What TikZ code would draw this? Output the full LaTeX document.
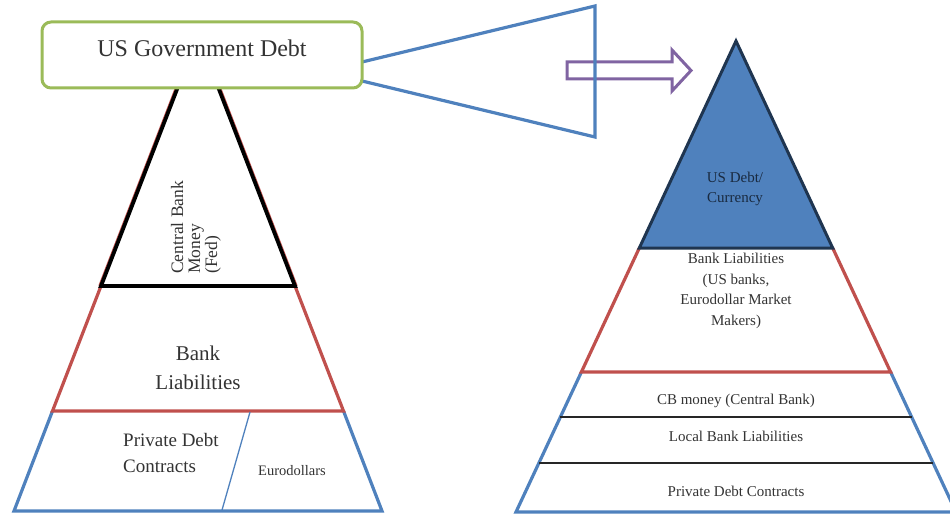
\documentclass[tikz,border=0pt]{standalone}
\usepackage{fontspec}
\setmainfont{Liberation Serif}
\definecolor{gGreen}{HTML}{9BBB59}
\definecolor{gRed}{HTML}{C0504D}
\definecolor{gBlue}{HTML}{4F81BD}
\definecolor{gPurple}{HTML}{8064A2}
\definecolor{gNavy}{HTML}{1F3550}
\definecolor{gText}{HTML}{333333}
\tikzset{
  blueline/.style={draw=gBlue, line width=3.2pt, line join=miter},
  redline/.style={draw=gRed, line width=3.2pt, line join=miter},
  blackline/.style={draw=black, line width=3.8pt, line join=miter},
  divline/.style={draw=black!85, line width=1.8pt},
  lbl/.style={text=gText, inner sep=0pt, align=center},
}
\begin{document}
\begin{tikzpicture}[x=1pt,y=-1pt]
\useasboundingbox (0,0) rectangle (950,516);
\clip (0,0) rectangle (950,516);
% ---------- left pyramid ----------
\coordinate (la) at (198,35);
\coordinate (lbL) at (101,286);
\coordinate (lbR) at (295,286);
\coordinate (lrL) at (52.5,411);
\coordinate (lrR) at (343.5,411);
\coordinate (lpL) at (14,511);
\coordinate (lpR) at (382,511);
\draw[blueline] (lrL) -- (lpL) -- (lpR) -- (lrR);
\draw[redline] (lbL) -- (lrL) -- (lrR) -- (lbR);
\draw[redline, line width=3pt] ([xshift=-1.2pt]la) -- ([xshift=-1.2pt]lbL);
\draw[redline, line width=3pt] ([xshift=1.2pt]la) -- ([xshift=1.2pt]lbR);
\draw[blackline] (la) -- (lbL) -- (lbR) -- cycle;
\coordinate (dvT) at (250,412);
\coordinate (dvB) at (222,510);
\draw[draw=gBlue, line width=1.3pt] (dvT) -- (dvB);
% ---------- megaphone + arrow ----------
\coordinate (m1) at (362,62);
\coordinate (m2) at (595,6);
\coordinate (m3) at (595,137);
\coordinate (m4) at (362,81);
\draw[draw=gPurple, line width=3pt, line join=miter]
  (567,62) -- (672,62) -- (672,50) -- (691,70.5) -- (672,91) -- (672,79) -- (567,79) -- cycle;
\draw[blueline] (m1) -- (m2) -- (m3) -- (m4);
% ---------- government box ----------
\node[draw=gGreen, line width=3pt, fill=white, rounded corners=9pt,
      minimum width=320pt, minimum height=66pt, inner sep=0pt,
      text height=16pt, text depth=13pt, text=gText,
      font=\fontsize{24}{28}\selectfont] (gov) at (202,55) {US Government Debt};
% ---------- right pyramid ----------
\coordinate (ra) at (736,41);
\coordinate (rbL) at (639.3,248);
\coordinate (rbR) at (832.7,248);
\coordinate (rrL) at (581.4,372);
\coordinate (rrR) at (890.6,372);
\coordinate (rpL) at (516,512);
\coordinate (rpR) at (956,512);
\draw[blueline] (rrL) -- (rpL) -- (rpR) -- (rrR);
\draw[redline] (rbL) -- (rrL) -- (rrR) -- (rbR);
\draw[draw=gNavy, fill=gBlue, line width=3pt, line join=miter] (ra) -- (rbL) -- (rbR) -- cycle;
\coordinate (d1L) at (560.4,417);
\coordinate (d1R) at (911.6,417);
\coordinate (d2L) at (539,463);
\coordinate (d2R) at (933,463);
\draw[divline] (d1L) -- (d1R);
\draw[divline] (d2L) -- (d2R);
% ---------- labels ----------
\node[lbl, rotate=90, anchor=west, align=left,
      font=\fontsize{17.5}{17}\selectfont] (cbm) at (196,274) {Central Bank\\Money\\(Fed)};
\node[lbl, font=\fontsize{21}{29}\selectfont] (blab) at (198,368) {Bank\\Liabilities};
\node[lbl, anchor=west, align=left, font=\fontsize{19}{26}\selectfont] (pdc) at (123,453) {Private Debt\\Contracts};
\node[lbl, font=\fontsize{14.5}{17}\selectfont] (euro) at (292,471) {Eurodollars};
\node[lbl, text=gNavy!80!black, font=\fontsize{15}{20}\selectfont] (usd) at (735,189) {US Debt/\\Currency};
\node[lbl, font=\fontsize{15}{20.5}\selectfont] (brl) at (736,291) {Bank Liabilities\\(US banks,\\Eurodollar Market\\Makers)};
\node[lbl, font=\fontsize{15}{18}\selectfont] (cbr) at (736,401) {CB money (Central Bank)};
\node[lbl, font=\fontsize{15}{18}\selectfont] (lbr) at (736,436) {Local Bank Liabilities};
\node[lbl, font=\fontsize{15}{18}\selectfont] (pdr) at (736,491) {Private Debt Contracts};
\end{tikzpicture}
\end{document}
